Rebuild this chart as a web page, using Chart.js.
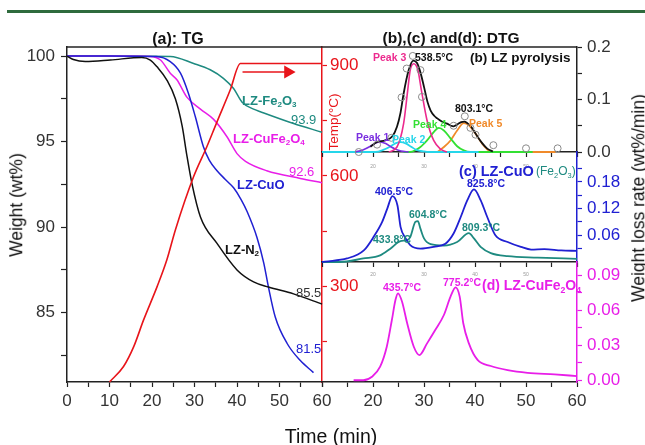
<!DOCTYPE html>
<html>
<head>
<meta charset="utf-8">
<script src="https://cdn.jsdelivr.net/npm/chart.js@4.4.1/dist/chart.umd.min.js"></script>
<style>
  body { margin: 0; background: #fff; }
  #wrap { position: relative; width: 645px; height: 445px; overflow: hidden; font-family: Arial, "Liberation Sans", sans-serif; }
  canvas { position: absolute; left: 0; top: 0; }
  .t { position: absolute; white-space: nowrap; }
  .t sub { font-size: 0.62em; vertical-align: -0.35em; line-height: 0; }
  #rule { position: absolute; left: 7px; top: 10px; width: 638px; height: 3px; background: #2f6b3d; }
</style>
</head>
<body>
<div id="wrap">
  <div id="rule"></div>
  <canvas id="cA" width="645" height="445"></canvas>
  <canvas id="cB" width="645" height="445"></canvas>
  <canvas id="cC" width="645" height="445"></canvas>
  <canvas id="cD" width="645" height="445"></canvas>
</div>
<script>
/* TG + DTG composite: left TG panel with temperature program, right three DTG panels */

const FONT = 'Arial, "Liberation Sans", sans-serif';
const RED = '#e8141a', TEAL = '#1e8a80', MAG = '#e81ee8', BLUE = '#2020d2', INK = '#222';

// ---- (a) TG curves: time (min) / weight (wt%)
const n2T = [0, 1.5, 4.3, 10.2, 17.6, 19.6, 21.2, 23.5, 25.5, 27.1, 28.2, 29.4, 31.4, 35.3, 40, 43.9, 47.4, 53.3, 60];
const n2W = [100, 99.8, 99.68, 99.77, 99.92, 99.77, 99.37, 98.6, 97.5, 95.9, 94.2, 92.55, 90.6, 89.05, 87.5, 86.8, 86.5, 86.1, 85.5];
const cuoT = [0, 10, 21, 24.3, 26.7, 28.6, 30.2, 32.1, 33.5, 35.3, 37.2, 39.2, 41, 42.4, 44.7, 46.3, 47.4, 49, 51.8, 54.9, 58];
const cuoW = [100, 100, 99.97, 99.67, 99, 97.8, 96.45, 94.7, 93.9, 93.3, 92.8, 92.3, 91.6, 90.9, 89.4, 87.9, 86.5, 84.75, 83.2, 82.2, 81.5];
const cfT = [0, 10, 19.6, 22, 24.3, 25.9, 28.2, 31.4, 34.5, 37.6, 40, 42, 47, 54.9, 60];
const cfW = [100, 100, 99.98, 99.77, 99, 98.6, 97.6, 96.9, 96.3, 95.3, 94.3, 93.85, 93.3, 92.85, 92.6];
const feT = [0, 10, 24.3, 29.8, 33.7, 36.8, 39.2, 41.2, 43.9, 45.5, 53.3, 60];
const feW = [100, 100, 99.98, 99.57, 99.2, 98.7, 98.1, 97.3, 96.9, 96.75, 96.06, 95.55];
const tempT = [10, 13.3, 15.7, 18, 21.2, 23.5, 25.5, 29.8, 32.9, 35.2, 38.4, 40.8, 60];
const tempV = [40, 82, 136, 208, 299, 372, 453, 598, 679, 744, 833, 905, 905];
const arrowT = [41.3, 52];
const arrowV = [882, 882];

// ---- (b) LZ pyrolysis DTG (wt%/min)
const totT = [19.5, 20.8, 22.4, 23.8, 24.7, 25.4, 26, 27, 27.9, 28.6, 29.2, 30, 30.7, 31.3, 32, 32.6, 33.5, 34.5, 35.3, 35.8, 36.6, 37.3, 37.9, 38.5, 39.1, 39.8, 40.5, 41.4, 42.4, 43.5];
const totV = [0.01, 0.019, 0.022, 0.03, 0.048, 0.075, 0.111, 0.156, 0.174, 0.17, 0.155, 0.124, 0.095, 0.079, 0.069, 0.064, 0.058, 0.054, 0.05, 0.049, 0.053, 0.057, 0.058, 0.055, 0.05, 0.04, 0.029, 0.017, 0.0065, 0.001];
const expT = [17.2, 20.8, 23.6, 25.6, 26.6, 27.8, 29.3, 29.6, 35.8, 38.0, 39.1, 40.1, 43.6, 50, 56.2];
const expV = [0.0, 0.014, 0.027, 0.104, 0.159, 0.183, 0.156, 0.105, 0.05, 0.068, 0.046, 0.033, 0.013, 0.007, 0.007];
const pk1T = [16.5, 18, 19.5, 20.5, 21.4, 22.5, 23.5, 24.5, 25.5, 27];
const pk1V = [0, 0.004, 0.011, 0.017, 0.019, 0.016, 0.01, 0.005, 0.002, 0];
const pk2T = [10, 20.5, 22, 23.5, 24.5, 25.4, 26.5, 27.5, 28.5, 30, 31, 40.7];
const pk2V = [0, 0, 0.004, 0.011, 0.017, 0.019, 0.016, 0.01, 0.004, 0.001, 0, 0];
const pk3T = [23.1, 24.7, 26, 26.8, 27.3, 28, 28.8, 29.5, 30.6, 31.9, 33.2, 34.5];
const pk3V = [0, 0.0095, 0.054, 0.117, 0.156, 0.168, 0.156, 0.117, 0.06, 0.022, 0.006, 0];
const pk4T = [26, 27.3, 29.3, 30.6, 31.9, 32.9, 33.9, 35.2, 36.5, 37.8, 39.1, 51.3];
const pk4V = [0, 0, 0.0095, 0.022, 0.038, 0.046, 0.041, 0.026, 0.011, 0.003, 0, 0];
const pk5T = [32.6, 33.9, 35.2, 36.5, 37.8, 38.8, 40.1, 41.4, 42.7, 43.7, 55.8];
const pk5V = [0, 0.0095, 0.022, 0.041, 0.055, 0.051, 0.035, 0.016, 0.003, 0, 0];

// ---- (c) LZ-CuO and LZ-Fe2O3 DTG
const cuoDT = [10, 10.6, 14.9, 18.2, 20.1, 21.8, 22.8, 23.8, 24.8, 25.4, 26.4, 27.3, 29.3, 31.9, 34.2, 35.8, 37.2, 38.5, 39.8, 41.1, 42.4, 44, 46.4, 49, 51, 53.6, 56.9, 60];
const cuoDV = [0, 0.001, 0.008, 0.026, 0.056, 0.09, 0.12, 0.148, 0.127, 0.079, 0.053, 0.038, 0.03, 0.034, 0.041, 0.064, 0.101, 0.139, 0.163, 0.139, 0.101, 0.06, 0.045, 0.034, 0.028, 0.029, 0.026, 0.025];
const feDT = [10, 13.5, 18.1, 21.4, 23.4, 25.4, 26.7, 27.3, 28.3, 28.8, 29.3, 30, 31.3, 33.9, 36.5, 38.8, 39.8, 41.1, 43.1, 46.4, 52.3, 60];
const feDV = [0, 0, 0.008, 0.015, 0.03, 0.047, 0.049, 0.056, 0.09, 0.092, 0.075, 0.053, 0.04, 0.037, 0.045, 0.065, 0.053, 0.034, 0.02, 0.013, 0.01, 0.007];

// ---- (d) LZ-CuFe2O4 DTG
const cfDT = [16.2, 18.1, 19.8, 21.4, 22.7, 23.7, 24.4, 24.9, 25.7, 26.7, 28, 29.1, 30.6, 32.2, 33.9, 35.2, 36.2, 37, 37.7, 38.8, 40.5, 43.1, 46.4, 50.3, 55.6, 60];
const cfDV = [0, 0, 0.003, 0.0116, 0.0287, 0.0516, 0.0687, 0.0745, 0.0673, 0.0488, 0.0287, 0.0216, 0.0316, 0.043, 0.0559, 0.0716, 0.0796, 0.0716, 0.0488, 0.0316, 0.0174, 0.0122, 0.0087, 0.0064, 0.005, 0.0036];

// ---- ticks
const timeTicksA = [0, 5, 10, 15, 20, 25, 30, 35, 40, 45, 50, 55, 60];
const timeLabelsA = [0, 10, 20, 30, 40, 50, 60];
const timeTicksR = [10, 15, 20, 25, 30, 35, 40, 45, 50, 55, 60];
const timeLabelsR = [20, 30, 40, 50, 60];
const timeLabelsSmall = [20, 30, 40, 50];
const wTicks = [82.5, 85, 87.5, 90, 92.5, 95, 97.5, 100];
const wLabels = [85, 90, 95, 100];
const tempTicks = [150, 300, 450, 600, 750, 900];
const tempLabels = [300, 600, 900];
const bTicks = [0, 0.05, 0.1, 0.15, 0.2];
const bLabels = [0, 0.1, 0.2];
const cTicks = [0.03, 0.06, 0.09, 0.12, 0.15, 0.18, 0.21];
const cLabels = [0.06, 0.12, 0.18];
const dTicks = [0, 0.015, 0.03, 0.045, 0.06, 0.075, 0.09];
const dLabels = [0, 0.03, 0.06, 0.09];

const pts = (xs, ys) => xs.map((x, i) => ({ x, y: ys[i] }));

function line(data, color, width, yAxisID) {
  return { data, borderColor: color, borderWidth: width, pointRadius: 0, fill: false,
    cubicInterpolationMode: 'monotone', yAxisID: yAxisID || 'y', clip: false };
}

function axis(opts) {
  const { min, max, ticks, labels, fmt, color, size, pad, len, pos, fit, border, bw } = opts;
  return {
    type: 'linear', position: pos, min, max, bounds: 'data',
    afterFit: (s) => { if (pos === 'bottom') s.height = fit; else s.width = fit; },
    afterBuildTicks: (s) => { s.ticks = ticks.map((v) => ({ value: v })); },
    ticks: { autoSkip: false, maxRotation: 0, color, padding: pad, font: { size, family: FONT },
      callback: (v) => (labels.includes(v) ? fmt(v) : '') },
    grid: { drawOnChartArea: false, tickLength: len || 5, tickColor: border || INK, tickWidth: 1.2 },
    border: { color: border || INK, width: bw || 1.5 },
  };
}

const topLine = {
  id: 'topLine',
  afterDraw(c) {
    const a = c.chartArea, g = c.ctx;
    g.save(); g.strokeStyle = INK; g.lineWidth = 1.5;
    g.beginPath(); g.moveTo(a.left, a.top); g.lineTo(a.right, a.top); g.stroke();
    g.restore();
  },
};

function make(id, padding, datasets, scales, plugins) {
  return new Chart(document.getElementById(id), {
    type: 'line',
    data: { datasets },
    options: { responsive: false, animation: false, events: [], parsing: false,
      layout: { padding }, plugins: { legend: { display: false }, tooltip: { enabled: false } }, scales },
    plugins: plugins || [],
  });
}

// (a) TG
make('cA', { left: 0, top: 47, right: 0, bottom: 0 }, [
  line(pts(tempT, tempV), RED, 1.6, 'yT'),
  { ...line(pts(arrowT, arrowV), RED, 1.6, 'yT'), cubicInterpolationMode: 'default',
    pointRadius: [0, 6], pointStyle: 'triangle', rotation: 90, pointBackgroundColor: RED, pointBorderColor: RED },
  line(pts(n2T, n2W), '#111', 1.5),
  line(pts(cuoT, cuoW), BLUE, 1.5),
  line(pts(cfT, cfW), MAG, 1.5),
  line(pts(feT, feW), TEAL, 1.5),
], {
  x: axis({ pos: 'bottom', min: 0, max: 60, ticks: timeTicksA, labels: timeLabelsA, fmt: String,
    color: '#333', size: 17, pad: 4, fit: 63 }),
  y: axis({ pos: 'left', min: 80.95, max: 100.53, ticks: wTicks, labels: wLabels, fmt: String,
    color: '#333', size: 17, pad: 6, len: 6, fit: 67 }),
  yT: axis({ pos: 'right', min: 40, max: 950, ticks: tempTicks, labels: tempLabels, fmt: String,
    color: RED, size: 17, pad: 3, fit: 323, border: RED }),
}, [topLine]);

// (b) LZ pyrolysis
make('cB', { left: 322, top: 47, right: 0, bottom: 0 }, [
  { data: pts(expT, expV), showLine: false, pointRadius: 3.5, pointBorderWidth: 1,
    pointBorderColor: '#8a8a8a', pointBackgroundColor: 'rgba(255,255,255,0)', clip: false },
  line(pts(totT, totV), '#111', 1.8),
  line(pts(pk3T, pk3V), '#ec2a8e', 1.6),
  line(pts(pk1T, pk1V), '#7a2fe0', 1.6),
  line(pts(pk2T, pk2V), '#25d6ea', 1.8),
  line(pts(pk4T, pk4V), '#33e033', 1.8),
  line(pts(pk5T, pk5V), '#f08a2a', 1.8),
], {
  x: axis({ pos: 'bottom', min: 10, max: 60, ticks: timeTicksR, labels: timeLabelsSmall, fmt: String,
    color: '#999', size: 5, pad: 7, fit: 293 }),
  y: axis({ pos: 'right', min: 0, max: 0.2, ticks: bTicks, labels: bLabels, fmt: (v) => v.toFixed(1),
    color: '#333', size: 17, pad: 5, fit: 68 }),
}, [topLine]);

// (c) LZ-CuO / LZ-Fe2O3
make('cC', { left: 322, top: 152, right: 0, bottom: 0 }, [
  line(pts(cuoDT, cuoDV), BLUE, 1.8),
  line(pts(feDT, feDV), TEAL, 1.8),
], {
  x: axis({ pos: 'bottom', min: 10, max: 60, ticks: timeTicksR, labels: timeLabelsSmall, fmt: String,
    color: '#999', size: 5, pad: 5, fit: 183 }),
  y: axis({ pos: 'right', min: 0, max: 0.247, ticks: cTicks, labels: cLabels, fmt: (v) => v.toFixed(2),
    color: BLUE, size: 17, pad: 5, fit: 68, border: BLUE }),
});

// (d) LZ-CuFe2O4
make('cD', { left: 322, top: 262, right: 0, bottom: 0 }, [
  line(pts(cfDT, cfDV), MAG, 1.8),
], {
  x: axis({ pos: 'bottom', min: 10, max: 60, ticks: timeTicksR, labels: timeLabelsR, fmt: String,
    color: '#333', size: 17, pad: 4, fit: 63 }),
  y: axis({ pos: 'right', min: -0.0015, max: 0.1013, ticks: dTicks, labels: dLabels, fmt: (v) => v.toFixed(2),
    color: MAG, size: 17, pad: 5, fit: 68, border: MAG }),
});

// text: [html, left, centre y, colour, font], rotated ones are centred
const notes = [
  ['LZ-Fe<sub>2</sub>O<sub>3</sub>', 242, 100, TEAL, 'bold 13px'],
  ['93.9', 291, 119, TEAL, '13px'],
  ['LZ-CuFe<sub>2</sub>O<sub>4</sub>', 233, 138, MAG, 'bold 13px'],
  ['92.6', 289, 171, MAG, '13px'],
  ['LZ-CuO', 237, 184, BLUE, 'bold 13px'],
  ['LZ-N<sub>2</sub>', 225, 249, '#111', 'bold 13px'],
  ['85.5', 296, 292, '#333', '13px'],
  ['81.5', 296, 348, BLUE, '13px'],
  ['Peak 3', 373, 57, '#ec2a8e', 'bold 10.5px'],
  ['538.5°C', 415, 57, '#111', 'bold 10.5px'],
  ['(b) LZ pyrolysis', 470, 58, '#111', 'bold 13.5px'],
  ['803.1°C', 455, 108, '#111', 'bold 10.5px'],
  ['Peak 1', 356, 137, '#7a2fe0', 'bold 10.5px'],
  ['Peak 2', 392, 139, '#25d6ea', 'bold 10.5px'],
  ['Peak 4', 413, 124, '#33e033', 'bold 10.5px'],
  ['Peak 5', 469, 123, '#f08a2a', 'bold 10.5px'],
  ['(c) LZ-CuO', 459, 171, BLUE, 'bold 14.5px'],
  ['(Fe<sub>2</sub>O<sub>3</sub>)', 536, 171, TEAL, '12px'],
  ['406.5°C', 375, 191, BLUE, 'bold 10.5px'],
  ['825.8°C', 467, 183, BLUE, 'bold 10.5px'],
  ['604.8°C', 409, 214, TEAL, 'bold 10.5px'],
  ['809.3°C', 462, 227, TEAL, 'bold 10.5px'],
  ['433.8°C', 373, 239, TEAL, 'bold 10.5px'],
  ['435.7°C', 383, 287, MAG, 'bold 10.5px'],
  ['775.2°C', 443, 282, MAG, 'bold 10.5px'],
  ['(d) LZ-CuFe<sub>2</sub>O<sub>4</sub>', 482, 285, MAG, 'bold 14px'],
];
const titles = [
  ['(a): TG', 178, 39, '#111', 'bold 16px', 0],
  ['(b),(c) and(d): DTG', 451, 38, '#111', 'bold 15.5px', 0],
  ['Time (min)', 331, 437, '#111', '19.5px', 0],
  ['Weight (wt%)', 17, 205, '#111', '17.5px', -90],
  ['Weight loss rate (wt%/min)', 639, 198, '#111', '17.5px', -90],
  ['Temp(°C)', 334, 122, RED, '13.5px', -90],
];

const wrap = document.getElementById('wrap');
notes.forEach(([html, x, y, color, font]) => {
  const d = document.createElement('div');
  d.className = 't';
  d.innerHTML = html;
  d.style.cssText = `left:${x}px;top:${y}px;color:${color};font:${font}/1 ${FONT};transform:translateY(-50%);`;
  wrap.appendChild(d);
});
titles.forEach(([html, x, y, color, font, rot]) => {
  const d = document.createElement('div');
  d.className = 't';
  d.innerHTML = html;
  d.style.cssText = `left:${x}px;top:${y}px;color:${color};font:${font}/1 ${FONT};transform:translate(-50%,-50%) rotate(${rot}deg);`;
  wrap.appendChild(d);
});
</script>
</body>
</html>
